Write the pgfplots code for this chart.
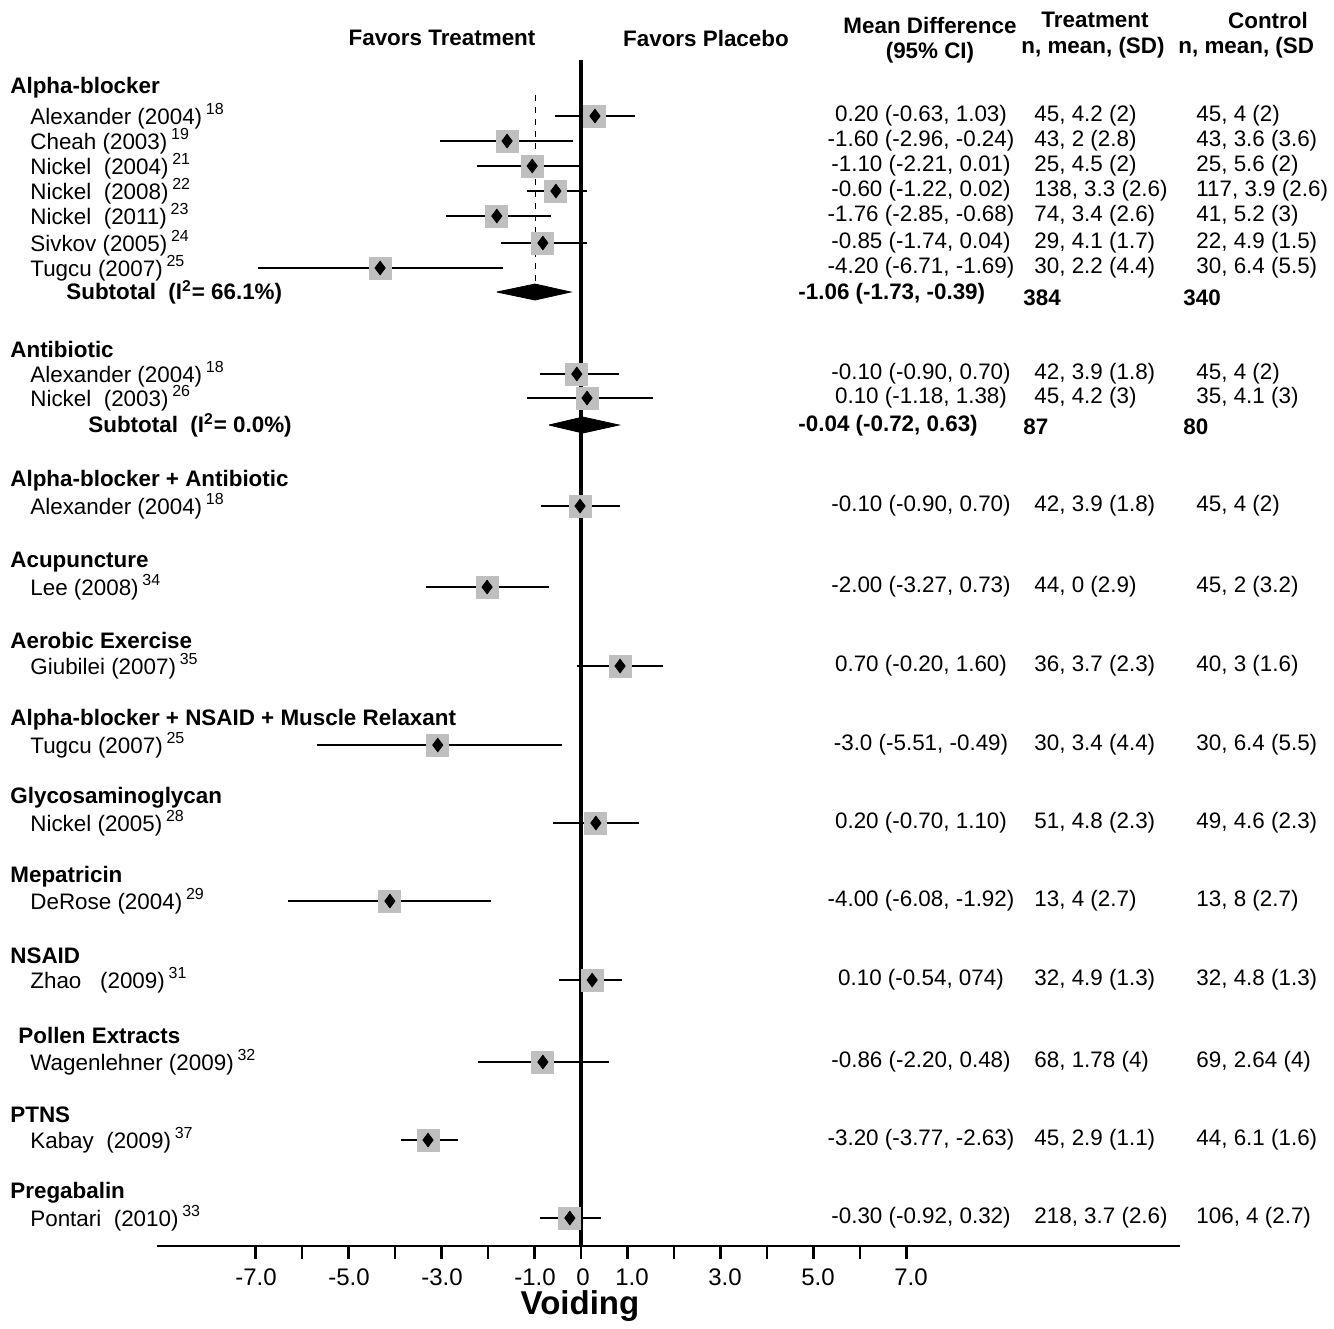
\documentclass[border=0pt]{standalone}
\usepackage{pgfplots}
\usepackage{pgfplotstable}
\pgfplotsset{compat=1.18}
\usepackage{fontspec}
\setmainfont{Liberation Sans}
\begin{document}
\begin{tikzpicture}
\def\fs{\fontsize{11.2}{13}\selectfont}
\begin{scope}[x=0.5pt,y=-0.5pt]
\path (0,0) (1334,1322);
% headers
\node[font=\fs\bfseries] at (442,38) {Favors Treatment};
\node[font=\fs\bfseries] at (706,38) {Favors Placebo};
\node[font=\fs\bfseries] at (930,25) {Mean Difference};
\node[font=\fs\bfseries] at (930,53) {(95\% CI)};
\node[font=\fs\bfseries] at (1095,20) {Treatment};
\node[font=\fs\bfseries] at (1093,48) {n, mean, (SD)};
\node[font=\fs\bfseries] at (1268,20) {Control};
\node[font=\fs\bfseries,anchor=west,inner sep=0] at (1178,48) {n, mean, (SD};
% groups
\foreach \yy/\tt in {88/Alpha-blocker,349/Antibiotic,481/Alpha-blocker + Antibiotic,562/Acupuncture,640/Aerobic Exercise,720/Alpha-blocker + NSAID + Muscle Relaxant,798/Glycosaminoglycan,877/Mepatricin,956/NSAID,1115/PTNS,1193/Pregabalin}
  {\node[font=\fs\bfseries,anchor=west,inner sep=0] at (10,\yy) {\tt};}
\node[font=\fs\bfseries,anchor=west,inner sep=0] at (18,1035) {Pollen Extracts};
% studies
\foreach \yy/\tt/\rr in {116/Alexander (2004)/18,141/Cheah (2003)/19,166/Nickel\ \ (2004)/21,191/Nickel\ \ (2008)/22,216/Nickel\ \ (2011)/23,243/Sivkov (2005)/24,268/Tugcu (2007)/25,374/Alexander (2004)/18,398/Nickel\ \ (2003)/26,506/Alexander (2004)/18,587/Lee (2008)/34,666/Giubilei (2007)/35,745/Tugcu (2007)/25,823/Nickel (2005)/28,901/DeRose (2004)/29,980/Zhao\ \ \ (2009)/31,1062/Wagenlehner (2009)/32,1140/Kabay\ \ (2009)/37,1218/Pontari\ \ (2010)/33}
  {\node[font=\fs,anchor=west,inner sep=0] at (30,\yy) {\tt\,\raisebox{0.8ex}{\fontsize{8}{9}\selectfont\rr}};}
\node[font=\fs\bfseries,anchor=west,inner sep=0] at (66,292) {Subtotal\ \ (I\textsuperscript{2}= 66.1\%)};
\node[font=\fs\bfseries,anchor=west,inner sep=0] at (88,425) {Subtotal\ \ (I\textsuperscript{2}= 0.0\%)};
% MD column
\foreach \yy/\tt in {116/0.20 (-0.63{,} 1.03),141/-1.60 (-2.96{,} -0.24),166/-1.10 (-2.21{,} 0.01),191/-0.60 (-1.22{,} 0.02),216/-1.76 (-2.85{,} -0.68),243/-0.85 (-1.74{,} 0.04),268/-4.20 (-6.71{,} -1.69),374/-0.10 (-0.90{,} 0.70),398/0.10 (-1.18{,} 1.38),506/-0.10 (-0.90{,} 0.70),587/-2.00 (-3.27{,} 0.73),666/0.70 (-0.20{,} 1.60),745/-3.0 (-5.51{,} -0.49),823/0.20 (-0.70{,} 1.10),901/-4.00 (-6.08{,} -1.92),980/0.10 (-0.54{,} 074),1062/-0.86 (-2.20{,} 0.48),1140/-3.20 (-3.77{,} -2.63),1218/-0.30 (-0.92{,} 0.32)}
  {\node[font=\fs,inner sep=0] at (921,\yy) {\tt};}
\node[font=\fs\bfseries,anchor=west,inner sep=0] at (798,294) {-1.06 (-1.73, -0.39)};
\node[font=\fs\bfseries,anchor=west,inner sep=0] at (798,426) {-0.04 (-0.72, 0.63)};
% treatment / control
\foreach \yy/\ta/\tb in {116/{45, 4.2 (2)}/{45, 4 (2)},141/{43, 2 (2.8)}/{43, 3.6 (3.6)},166/{25, 4.5 (2)}/{25, 5.6 (2)},191/{138, 3.3 (2.6)}/{117, 3.9 (2.6)},216/{74, 3.4 (2.6)}/{41, 5.2 (3)},243/{29, 4.1 (1.7)}/{22, 4.9 (1.5)},268/{30, 2.2 (4.4)}/{30, 6.4 (5.5)},374/{42, 3.9 (1.8)}/{45, 4 (2)},398/{45, 4.2 (3)}/{35, 4.1 (3)},506/{42, 3.9 (1.8)}/{45, 4 (2)},587/{44, 0 (2.9)}/{45, 2 (3.2)},666/{36, 3.7 (2.3)}/{40, 3 (1.6)},745/{30, 3.4 (4.4)}/{30, 6.4 (5.5)},823/{51, 4.8 (2.3)}/{49, 4.6 (2.3)},901/{13, 4 (2.7)}/{13, 8 (2.7)},980/{32, 4.9 (1.3)}/{32, 4.8 (1.3)},1062/{68, 1.78 (4)}/{69, 2.64 (4)},1140/{45, 2.9 (1.1)}/{44, 6.1 (1.6)},1218/{218, 3.7 (2.6)}/{106, 4 (2.7)}}
  {\node[font=\fs,anchor=west,inner sep=0] at (1034,\yy) {\ta};
   \node[font=\fs,anchor=west,inner sep=0] at (1196,\yy) {\tb};}
\node[font=\fs\bfseries,anchor=west,inner sep=0] at (1023,298) {384};
\node[font=\fs\bfseries,anchor=west,inner sep=0] at (1183,298) {340};
\node[font=\fs\bfseries,anchor=west,inner sep=0] at (1023,427) {87};
\node[font=\fs\bfseries,anchor=west,inner sep=0] at (1183,427) {80};
\node[font=\fontsize{16.5}{18}\selectfont\bfseries] at (580,1306) {Voiding};
\foreach \px/\l in {256/-7.0,349/-5.0,442/-3.0,535/-1.0,583/0,632/1.0,725/3.0,818/5.0,911/7.0}
  {\node[font=\fontsize{12}{13}\selectfont] at (\px,1277) {\l};}
\end{scope}
% data layer in value units
\begin{axis}[at={(0,-661pt)},anchor=south west,width=667pt,height=661pt,scale only axis,
  xmin=-12.495,xmax=16.194,ymin=0,ymax=1322,y dir=reverse,clip=false,
  axis x line=none,axis y line=none,unbounded coords=jump]
\addplot[black,line width=1.6pt] coordinates {(0,60) (0,1246)};
\addplot[black,line width=1pt] coordinates {(-9.12,1246) (12.88,1246)};
\addplot[black,line width=1.4pt] coordinates {
(-7,1246) (-7,1259) (nan,nan) (-6,1246) (-6,1259) (nan,nan) (-5,1246) (-5,1259) (nan,nan)
(-4,1246) (-4,1259) (nan,nan) (-3,1246) (-3,1259) (nan,nan) (-2,1246) (-2,1259) (nan,nan)
(-1,1246) (-1,1259) (nan,nan) (0,1246) (0,1259) (nan,nan) (1,1246) (1,1259) (nan,nan)
(2,1246) (2,1259) (nan,nan) (3,1246) (3,1259) (nan,nan) (4,1246) (4,1259) (nan,nan)
(5,1246) (5,1259) (nan,nan) (6,1246) (6,1259) (nan,nan) (7,1246) (7,1259)};
\addplot[black,dashed,thin] coordinates {(-0.99,95) (-0.99,292)};
% confidence intervals
\addplot[black,line width=1.4pt] coordinates {
(-0.56,116) (1.16,116) (nan,nan) (-3.03,141) (-0.17,141) (nan,nan) (-2.24,166) (0.02,166) (nan,nan)
(-1.16,191) (0.13,191) (nan,nan) (-2.90,216) (-0.65,216) (nan,nan) (-1.72,243) (0.13,243) (nan,nan)
(-6.95,268) (-1.68,268) (nan,nan) (-0.88,374) (0.82,374) (nan,nan) (-1.16,398) (1.55,398) (nan,nan)
(-0.86,506) (0.84,506) (nan,nan) (-3.33,587) (-0.69,587) (nan,nan) (-0.09,666) (1.76,666) (nan,nan)
(-5.68,745) (-0.41,745) (nan,nan) (-0.60,823) (1.25,823) (nan,nan) (-6.30,901) (-1.94,901) (nan,nan)
(-0.47,980) (0.88,980) (nan,nan) (-2.22,1062) (0.60,1062) (nan,nan) (-3.87,1140) (-2.65,1140) (nan,nan)
(-0.88,1218) (0.43,1218)};
\pgfplotstableread{
y est
116 0.30
141 -1.59
166 -1.05
191 -0.54
216 -1.81
243 -0.82
268 -4.32
374 -0.09
398 0.13
506 -0.02
587 -2.02
666 0.84
745 -3.08
823 0.32
901 -4.11
980 0.24
1062 -0.82
1140 -3.29
1218 -0.24
}\studies
\addplot[only marks,mark=square*,mark size=5.5pt,mark options={draw=black!25,fill=black!25,line width=0pt}] table[x=est,y=y]{\studies};
\addplot[only marks,mark=diamond*,mark size=3.4pt,black] table[x=est,y=y]{\studies};
\addplot[black,fill=black] coordinates {(-1.81,292) (-0.99,284) (-0.22,292) (-0.99,300) (-1.81,292)};
\addplot[black,fill=black] coordinates {(-0.69,425) (0.04,417) (0.82,425) (0.04,433) (-0.69,425)};
\end{axis}
\end{tikzpicture}
\end{document}
